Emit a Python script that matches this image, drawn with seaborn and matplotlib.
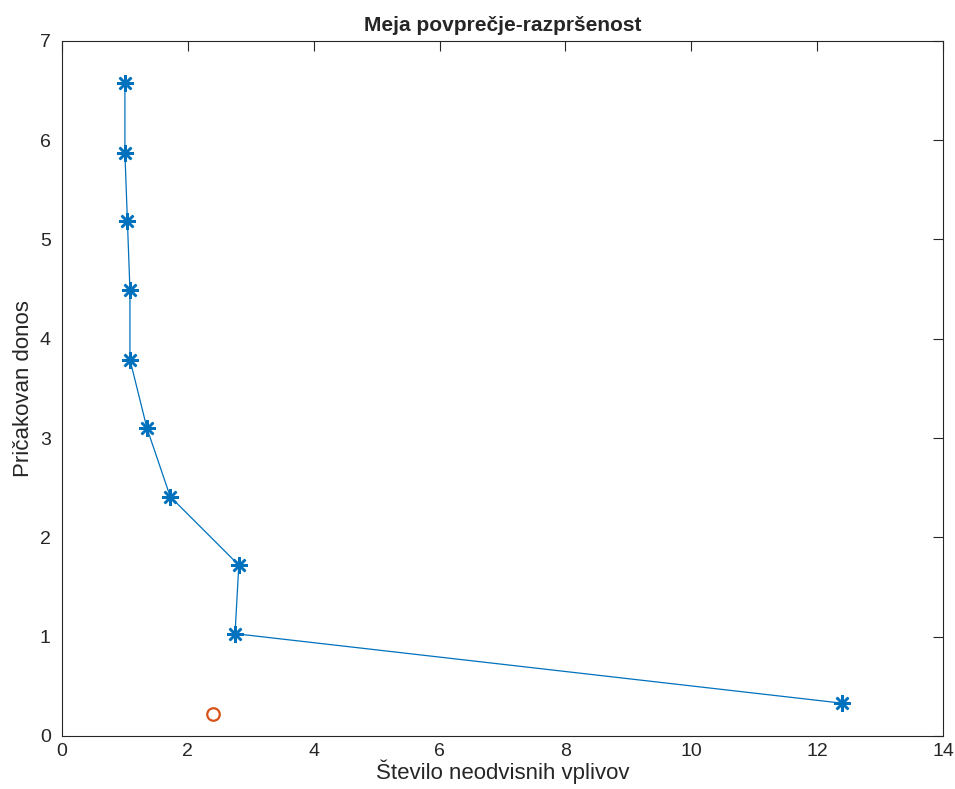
import seaborn as sns
import matplotlib.pyplot as plt
import pandas as pd

# Data
tveganje = [1.00, 1.00, 1.04, 1.08, 1.08, 1.35, 1.72, 2.81, 2.75, 12.40]
donos = [6.57, 5.87, 5.18, 4.49, 3.79, 3.10, 2.41, 1.72, 1.03, 0.33]
tocka_x = [2.40]
tocka_y = [0.22]

sns.set_style('white')
plt.rcParams['font.family'] = ['Liberation Sans', 'DejaVu Sans']

meja = pd.DataFrame({'x': tveganje, 'y': donos})
tocka = pd.DataFrame({'x': tocka_x, 'y': tocka_y})

fig = plt.figure(figsize=(9.55, 7.89), dpi=100)
ax = fig.add_axes([0.0649, 0.0672, 0.9225, 0.8812])

# Mean-variance frontier
sns.lineplot(x='x', y='y', data=meja, sort=False, estimator=None, ax=ax,
             color='#0072BD', linewidth=0.9, marker=(8, 2, 0), markersize=12,
             markeredgewidth=1.8, markeredgecolor='#0072BD')
# Single portfolio point
ax.plot(tocka['x'], tocka['y'], 'o', markersize=9, markerfacecolor='none',
        markeredgecolor='#D95319', markeredgewidth=1.6)

ax.set_xlim(0, 14)
ax.set_ylim(0, 7)
ax.set_xticks(range(0, 15, 2))
ax.set_yticks(range(0, 8))
ax.tick_params(direction='in', length=7, width=0.8, colors='#262626',
               labelsize=14, top=True, right=True, pad=5)
ax.tick_params(axis='y', pad=8)
for s in ax.spines.values():
    s.set_color('#262626')
    s.set_linewidth(0.8)

ax.set_title('Meja povprečje-razpršenost', fontsize=15, fontweight='bold', pad=7)
ax.set_xlabel('Število neodvisnih vplivov', fontsize=16, color='#262626', labelpad=0)
ax.set_ylabel('Pričakovan donos', fontsize=16, color='#262626', labelpad=4)

plt.savefig('out.png', dpi=100)
